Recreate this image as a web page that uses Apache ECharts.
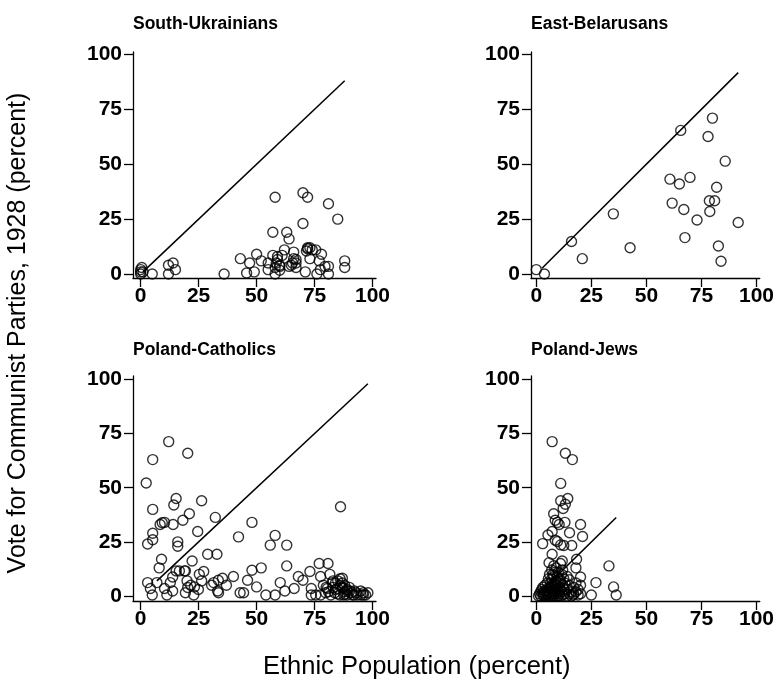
<!DOCTYPE html>
<html>
<head>
<meta charset="utf-8">
<script src="https://cdn.jsdelivr.net/npm/echarts@6/dist/echarts.min.js"></script>
<style>
  html, body { margin: 0; padding: 0; background: #fff; }
  #chart { width: 777px; height: 683px; }
</style>
</head>
<body>
<div id="chart"></div>
<script>
// panel names
const panelNames = ['South-Ukrainians', 'East-Belarusans', 'Poland-Catholics', 'Poland-Jews'];
const tickValues = [0, 25, 50, 75, 100];

// [ethnic population %, communist vote %]
const southUkrainians = [
  [0, 0], [0, 1], [0, 2], [0.5, 3], [1, 1], [5, 0], [12, 0], [12, 4], [14, 5], [15, 2],
  [36, 0], [43, 7], [45.7, 0.5], [47, 5], [49, 1], [50, 9], [52, 6], [55, 5], [55, 2],
  [57, 8.5], [57, 19], [58, 35], [58, 0], [58.5, 5], [59, 6.6], [60, 3.5], [60, 1.7],
  [61, 8.5], [62, 11], [63, 19], [64, 16], [64, 3.5], [65.5, 5], [66, 10], [67, 6.6],
  [67, 5], [70, 23], [70, 37], [72, 35], [71, 1], [71.5, 10.5], [72, 11.5], [73, 7],
  [74, 11], [75.5, 11], [76, 0], [77, 6], [77.5, 2], [78, 9], [79.5, 3.5], [81, 0],
  [81, 3.5], [81, 32], [85, 25], [88, 6], [88, 3], [59, 8], [60, 4], [58, 3], [67, 3],
  [72, 12], [73, 12], [65, 4], [66, 7]
];
const eastBelarusans = [
  [0, 2], [3.7, 0], [16, 14.8], [20.9, 7], [35, 27.4], [42.6, 12], [60.7, 43.2],
  [61.7, 32.3], [65, 41], [65.6, 65.4], [67, 29.4], [67.5, 16.6], [69.8, 44], [73, 24.6],
  [78, 62.6], [80, 71], [78.6, 33.4], [81, 33.4], [78.8, 28.5], [81.9, 39.5], [82.7, 12.8],
  [83.9, 5.8], [85.8, 51.4], [91.7, 23.5]
];
const polandCatholics = [
  [2.4, 52.2], [3, 24], [3, 6.2], [4.2, 3.5], [5, 0.5], [5.2, 63], [5.2, 40], [5.2, 29],
  [5.2, 26], [7, 6.2], [8, 13], [9, 17], [8.4, 33], [9.3, 33.8], [10.3, 34], [10.3, 3.5],
  [11.3, 0.5], [12.1, 71.3], [12.8, 6.2], [13.8, 2.3], [13.8, 8.8], [14, 33], [14.3, 42],
  [15.3, 45], [16, 25], [16, 23], [15.3, 11.6], [16.7, 11.6], [18.2, 35], [18.9, 11.6],
  [19.3, 11.6], [19.3, 1.5], [20, 7], [20.3, 65.9], [21, 38], [20.3, 3.9], [21.6, 5],
  [22.2, 16.2], [22.9, 0.5], [23.2, 4.2], [24.6, 29.8], [24.9, 3], [25.3, 10], [26.3, 44],
  [26.3, 7], [27.2, 11.3], [28.9, 19.3], [30.6, 5], [31.5, 6.2], [32.2, 36.3], [32.9, 19.3],
  [33.2, 2.3], [33.5, 7.3], [33.6, 1.5], [35.3, 8.2], [37, 5], [40, 9], [42.2, 27.3],
  [42.9, 1.5], [44.4, 1.5], [46.1, 7.3], [48, 34], [48, 11.9], [50, 4.2], [52, 13],
  [54, 0.5], [55.9, 23.5], [58, 28], [58, 0.5], [60.2, 6.2], [62.2, 2.3], [63, 23.5],
  [63, 13.9], [66.2, 3.5], [68, 9], [70, 7.3], [73, 11.3], [73.6, 3.5], [73.6, 0.5],
  [75.5, 0.5], [77, 15], [77.6, 9], [77.6, 0.5], [78.8, 5], [79.8, 1.5], [80.8, 15],
  [81.6, 10], [80.5, 3.5], [82.7, 6.2], [83.7, 1.5], [85, 7], [86.2, 41.2], [87, 8.2],
  [87, 3.5], [87.6, 0.5], [89, 2.3], [90.2, 2.3], [91.3, 0.5], [92.2, 2.3], [93.4, 0.5],
  [94.9, 2.3], [96, 0.5], [98, 1.5], [80, 4], [81, 2], [82, 0.5], [83, 4], [84, 3],
  [85, 1], [86, 5], [86, 0.5], [87, 6], [88, 2], [88, 5], [89, 0.5], [90, 4], [91, 1.5],
  [84, 6], [85, 3.5], [83, 7], [86, 8], [87, 4], [88, 1], [89, 3], [92, 0.5], [93, 1.5],
  [95, 0.5], [96, 1.5], [97, 0.5]
];
const polandJews = [
  [7.2, 71.3], [13.2, 65.9], [16.4, 63], [11.1, 52], [11.1, 44], [14.3, 45], [13.2, 42.4],
  [12.2, 40.4], [7.9, 38], [8.6, 35], [9.6, 34], [10.4, 33], [13, 34], [20.1, 33], [21, 27.5],
  [15.1, 29.2], [2.9, 24.2], [5.3, 28.2], [7.2, 29.8], [8.6, 25.8], [9.6, 25.2], [11.1, 23.6],
  [12.5, 23.3], [16.1, 23.3], [7.2, 19.3], [5.8, 15.4], [11.8, 16.2], [18.3, 17], [18, 13],
  [33, 13.9], [27.1, 6.2], [25, 0.5], [35.1, 4.2], [36.3, 0.5], [20.1, 8.8], [20.1, 5],
  [20.1, 1.1], [16.8, 0.5],
  [1, 0], [1.5, 1], [2, 0], [2, 2], [2.5, 3], [3, 0.5], [3, 1.5], [3, 4], [3.5, 0], [4, 1],
  [4, 2.5], [4, 5], [4.5, 0], [5, 1], [5, 3], [5, 6], [5.5, 0.5], [5.5, 8], [6, 0], [6, 2],
  [6, 4], [6, 10], [6.5, 1], [6.5, 6], [7, 0], [7, 2.5], [7, 5], [7, 8], [7, 12], [7.5, 1],
  [7.5, 3.5], [7.5, 10], [8, 0], [8, 2], [8, 6], [8, 9], [8, 14], [8.5, 1], [8.5, 4],
  [8.5, 11], [9, 0], [9, 3], [9, 7], [9, 13], [9.5, 1.5], [9.5, 5], [9.5, 9], [10, 0],
  [10, 2], [10, 6], [10, 11], [10.5, 1], [10.5, 4], [10.5, 8], [11, 0], [11, 3], [11, 7],
  [11, 15], [11.5, 2], [11.5, 10], [12, 0.5], [12, 5], [12, 12], [12.5, 3], [12.5, 8],
  [13, 1], [13, 6], [14, 0], [14, 3], [14, 9], [15, 1], [15, 5], [15, 7.5], [16, 2], [16, 0],
  [17, 4], [17, 1], [18, 2], [19, 0.5], [18, 6], [19, 3]
];
// start/end of the 45-degree reference line in each panel
const diagonalEnds = [[1, 88], [2.6, 91.7], [7, 98], [1, 36.3]];

const panelData = [southUkrainians, eastBelarusans, polandCatholics, polandJews];

// layout of the four panels (pixels)
const grids = [
  { left: 133, top: 52, width: 243, height: 226 },
  { left: 531, top: 52, width: 240, height: 226 },
  { left: 133, top: 376, width: 243, height: 225 },
  { left: 531, top: 376, width: 240, height: 225 }
];
const xMin = [-3.3, -2.4, -3.3, -2.4];
const yRange = [[-1.8, 101.1], [-1.8, 101.1], [-2.3, 101.6], [-2.3, 101.6]];

const font = 'Liberation Sans, Arial, Helvetica, sans-serif';

function axisCommon(margin) {
  return {
    axisLine: { show: true, onZero: false, lineStyle: { color: '#000', width: 1.3 } },
    axisTick: { show: true, length: 9, inside: false, customValues: tickValues,
      lineStyle: { color: '#000', width: 1.3 } },
    axisLabel: { customValues: tickValues, color: '#000', fontSize: 21, fontWeight: 'bold',
      fontFamily: font, margin: margin },
    splitLine: { show: false }
  };
}

const xAxes = grids.map((g, i) => Object.assign(axisCommon(8), {
  type: 'value', gridIndex: i, min: xMin[i], max: 101.5
}));
const yAxes = grids.map((g, i) => Object.assign(axisCommon(11), {
  type: 'value', gridIndex: i, min: yRange[i][0], max: yRange[i][1]
}));

const series = [];
panelData.forEach((d, i) => {
  series.push({
    type: 'line', xAxisIndex: i, yAxisIndex: i,
    data: [[diagonalEnds[i][0], diagonalEnds[i][0]], [diagonalEnds[i][1], diagonalEnds[i][1]]],
    symbol: 'none', silent: true,
    lineStyle: { color: '#000', width: 1.5 }
  });
  series.push({
    type: 'scatter', xAxisIndex: i, yAxisIndex: i, data: d,
    symbol: 'circle', symbolSize: 10,
    itemStyle: { color: 'rgba(255,255,255,0)', borderColor: '#000', borderWidth: 1.4 }
  });
});

const titles = panelNames.map((name, i) => ({
  text: name,
  left: grids[i].left - 5,
  top: i < 2 ? 10 : 336,
  textStyle: { fontSize: 17.5, fontWeight: 'bold', color: '#000', fontFamily: font }
}));
titles.push({
  text: 'Ethnic Population (percent)',
  left: 258, top: 649,
  textStyle: { fontSize: 25.5, fontWeight: 'normal', color: '#000', fontFamily: font }
});

const chart = echarts.init(document.getElementById('chart'), null, { renderer: 'canvas' });
chart.setOption({
  animation: false,
  backgroundColor: '#fff',
  title: titles,
  grid: grids,
  xAxis: xAxes,
  yAxis: yAxes,
  series: series,
  graphic: [{
    type: 'text',
    x: 18, y: 333,
    rotation: Math.PI / 2,
    style: {
      text: 'Vote for Communist Parties, 1928 (percent)',
      fill: '#000', font: '25px ' + font,
      textAlign: 'center', textVerticalAlign: 'middle'
    }
  }]
});
</script>
</body>
</html>
